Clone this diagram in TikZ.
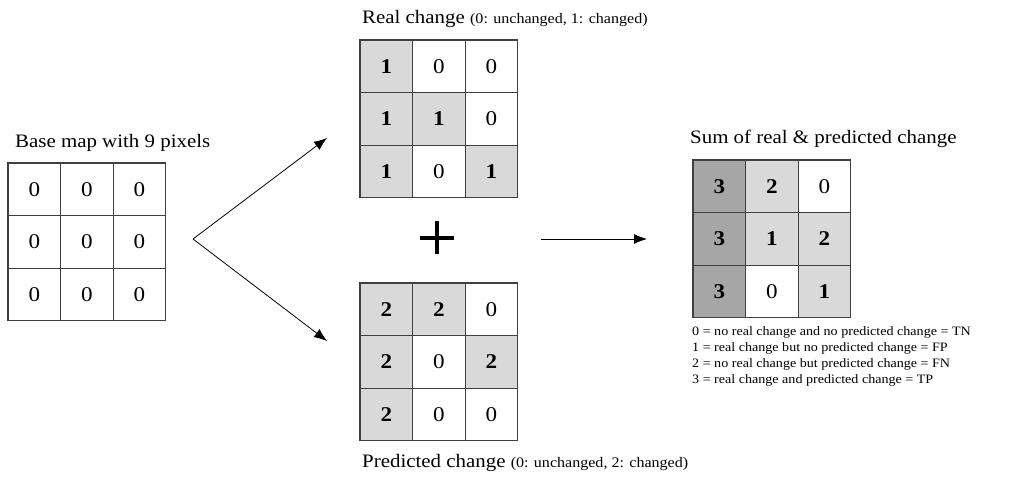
\documentclass[tikz,border=0pt]{standalone}
\usepackage{fontspec}
\setmainfont[FakeStretch=1.1]{Liberation Serif}
\usetikzlibrary{arrows.meta}

\definecolor{gridline}{HTML}{404040}
\definecolor{lightfill}{HTML}{D9D9D9}
\definecolor{darkfill}{HTML}{A6A6A6}

\tikzset{
  pix/.style={draw=gridline, line width=1.2pt, minimum size=52.6pt, inner sep=0pt,
              font=\fontsize{21}{23}\selectfont},
  on/.style={pix, fill=lightfill, font=\fontsize{21}{23}\selectfont\bfseries},
  strong/.style={pix, fill=darkfill, font=\fontsize{21}{23}\selectfont\bfseries},
  off/.style={pix, fill=white},
  title/.style={anchor=base west, inner sep=0pt, font=\fontsize{19}{21}\selectfont},
  legend/.style={anchor=base west, inner sep=0pt, font=\fontsize{12.8}{15}\selectfont},
  flow/.style={draw=black, line width=0.8pt, -{Latex[length=13pt,width=10pt]}},
}
\newcommand{\smallnote}[1]{{\fontsize{14.6}{16}\selectfont #1}}

\begin{document}
\begin{tikzpicture}[x=1pt,y=-1pt]
  \useasboundingbox (0,0) rectangle (1025,477);

  % a 3x3 grid of cells: #1 name prefix, #2/#3 top-left corner,
  % #4 list of style/value pairs in reading order
  \newcommand{\pixelgrid}[4]{%
    \foreach [count=\k from 0] \st/\val in {#4} {
      \pgfmathtruncatemacro{\r}{div(\k,3)}
      \pgfmathtruncatemacro{\c}{mod(\k,3)}
      \node[\st] (#1-\r-\c) at ({#2+26.3+52.6*\c},{#3+26.3+52.6*\r}) {\val};
    }%
  }

  % base map
  \node[title] (basetitle) at (15,147) {Base map with 9 pixels};
  \pixelgrid{base}{8}{163}{off/0,off/0,off/0,off/0,off/0,off/0,off/0,off/0,off/0}

  % real change
  \node[title] (realtitle) at (362,23) {Real change \smallnote{(0: unchanged, 1: changed)}};
  \pixelgrid{real}{360}{40}{on/1,off/0,off/0,on/1,on/1,off/0,on/1,off/0,on/1}

  % predicted change
  \pixelgrid{pred}{360}{283}{on/2,on/2,off/0,on/2,off/0,on/2,on/2,off/0,off/0}
  \node[title] (predtitle) at (362,467) {Predicted change \smallnote{(0: unchanged, 2: changed)}};

  % plus sign between the two maps
  \coordinate (plus) at (437,237.5);
  \draw[line width=4pt] ([xshift=-17pt]plus) -- ([xshift=17pt]plus)
                        ([yshift=-16.5pt]plus) -- ([yshift=16.5pt]plus);

  % sum of both maps
  \node[title] (sumtitle) at (690,143) {Sum of real \& predicted change};
  \pixelgrid{sum}{693}{160}{strong/3,on/2,off/0,strong/3,on/1,on/2,strong/3,off/0,on/1}

  % legend
  \node[legend] (l0) at (692,335) {0 = no real change and no predicted change = TN};
  \node[legend] (l1) at (692,351) {1 = real change but no predicted change = FP};
  \node[legend] (l2) at (692,367) {2 = no real change but predicted change = FN};
  \node[legend] (l3) at (692,383) {3 = real change and predicted change = TP};

  % connectors
  \coordinate (fork) at (193,239);
  \coordinate (uptip) at (327,138);
  \coordinate (downtip) at (327,341);
  \coordinate (sumstart) at (541,239);
  \coordinate (sumtip) at (647,239);
  \draw[flow] (fork) -- (uptip);
  \draw[flow] (fork) -- (downtip);
  \draw[flow] (sumstart) -- (sumtip);
\end{tikzpicture}
\end{document}
